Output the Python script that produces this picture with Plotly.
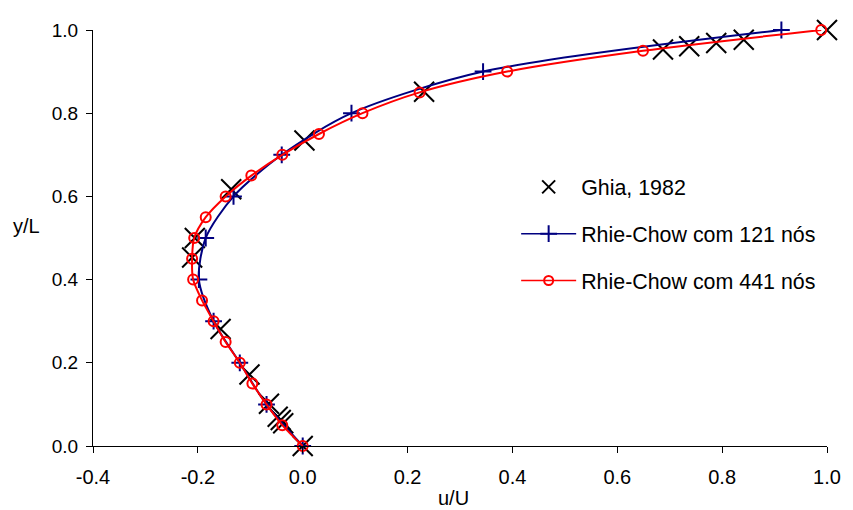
import plotly.graph_objects as go

# Ghia et al. (1982), u along the vertical centreline
ghia_y = [1.0000, 0.9766, 0.9688, 0.9609, 0.9531, 0.8516, 0.7344, 0.6172, 0.5000,
          0.4531, 0.2813, 0.1719, 0.1016, 0.0703, 0.0625, 0.0547, 0.0000]
ghia_u = [1.0, 0.84123, 0.78871, 0.73722, 0.68717, 0.23151, 0.00332, -0.13641, -0.20581,
          -0.21090, -0.15662, -0.10150, -0.06434, -0.04775, -0.04192, -0.03717, 0.0]

# Rhie-Chow, 121 nodes
rc121_y = [0.0, 0.1, 0.2, 0.3, 0.4, 0.5, 0.6, 0.7, 0.8, 0.9, 1.0]
rc121_u = [0.0, -0.069, -0.120, -0.170, -0.198, -0.185, -0.132, -0.040, 0.093, 0.344, 0.913]

# Rhie-Chow, 441 nodes
rc441_y = [0.0, 0.05, 0.1, 0.15, 0.2, 0.25, 0.3, 0.35, 0.4, 0.45, 0.5,
           0.55, 0.6, 0.65, 0.7, 0.75, 0.8, 0.85, 0.9, 0.95, 1.0]
rc441_u = [0.0, -0.039, -0.069, -0.096, -0.120, -0.147, -0.170, -0.192, -0.209, -0.211, -0.207,
           -0.185, -0.147, -0.098, -0.039, 0.031, 0.114, 0.223, 0.390, 0.649, 0.989]

# axis ticks (plain hyphen like the original, not the unicode minus)
x_ticks = [-0.4, -0.2, 0.0, 0.2, 0.4, 0.6, 0.8, 1.0]
x_labels = ['-0.4', '-0.2', '0.0', '0.2', '0.4', '0.6', '0.8', '1.0']
y_ticks = [0.0, 0.2, 0.4, 0.6, 0.8, 1.0]
y_labels = ['0.0', '0.2', '0.4', '0.6', '0.8', '1.0']

FONT = 'Liberation Sans, Arial, sans-serif'
NAVY = '#000080'
RED = '#FF0000'

fig = go.Figure()

# data traces (legend entries are drawn by the empty traces below)
fig.add_trace(go.Scatter(
    x=ghia_u, y=ghia_y, mode='markers', showlegend=False,
    marker=dict(symbol='x-thin', size=20, line=dict(color='black', width=2)),
    cliponaxis=False
))
fig.add_trace(go.Scatter(
    x=rc121_u, y=rc121_y, mode='lines+markers', showlegend=False,
    line=dict(color=NAVY, width=2, shape='spline', smoothing=0.8),
    marker=dict(symbol='cross-thin', size=12, line=dict(color=NAVY, width=2)),
    cliponaxis=False
))
fig.add_trace(go.Scatter(
    x=rc441_u, y=rc441_y, mode='lines+markers', showlegend=False,
    line=dict(color=RED, width=2, shape='spline', smoothing=0.8),
    marker=dict(symbol='circle-open', size=10, color=RED, line=dict(width=2)),
    cliponaxis=False
))

# legend entries
fig.add_trace(go.Scatter(
    x=[None], y=[None], mode='markers', name='Ghia, 1982', legendgroup='a',
    marker=dict(symbol='x-thin', size=13, line=dict(color='black', width=2))
))
fig.add_trace(go.Scatter(
    x=[None], y=[None], mode='lines+markers', name='Rhie-Chow com 121 nós', legendgroup='b',
    line=dict(color=NAVY, width=1.5),
    marker=dict(symbol='cross-thin', size=12, line=dict(color=NAVY, width=2))
))
fig.add_trace(go.Scatter(
    x=[None], y=[None], mode='lines+markers', name='Rhie-Chow com 441 nós', legendgroup='c',
    line=dict(color=RED, width=1.5),
    marker=dict(symbol='circle-open', size=9, color=RED, line=dict(width=2))
))

axis_style = dict(
    showgrid=False, zeroline=False,
    showline=True, linecolor='black', linewidth=1,
    ticks='outside', ticklen=6, tickcolor='black', tickwidth=1,
)

# the page body has an 8px margin, so the figure is shrunk by that much
fig.update_layout(
    width=845, height=502,
    margin=dict(l=85, r=19, t=18, b=64),
    paper_bgcolor='white',
    plot_bgcolor='white',
    font=dict(family=FONT, size=17, color='black'),
    xaxis=dict(range=[-0.4, 1.0], tickvals=x_ticks, ticktext=x_labels,
               tickfont=dict(family=FONT, size=20, color='black'),
               ticklabelstandoff=7, **axis_style),
    yaxis=dict(range=[0, 1.0], tickvals=y_ticks, ticktext=y_labels,
               tickfont=dict(family=FONT, size=19, color='black'),
               ticklabelstandoff=4, **axis_style),
    showlegend=True,
    legend=dict(
        x=0.5765, y=0.672, xanchor='left', yanchor='top',
        bgcolor='rgba(0,0,0,0)',
        font=dict(family=FONT, size=21.4, color='black'),
        itemsizing='trace', itemwidth=55,
        traceorder='grouped', tracegroupgap=16,
    ),
    annotations=[
        dict(text='y/L', xref='paper', yref='paper', x=-0.09, y=0.53,
             xanchor='center', yanchor='middle', showarrow=False,
             font=dict(family=FONT, size=20, color='black')),
        dict(text='u/U', xref='paper', yref='paper', x=0.491, y=-0.124,
             xanchor='center', yanchor='middle', showarrow=False,
             font=dict(family=FONT, size=20, color='black')),
    ],
)

fig.write_html("out.html")
